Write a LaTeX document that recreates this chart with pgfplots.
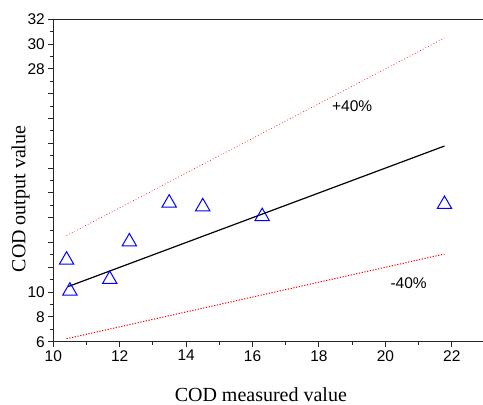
\documentclass[border=0pt]{standalone}
\usepackage{pgfplots}
\pgfplotsset{compat=1.18}
\usepackage{fontspec}
\setmainfont{Liberation Serif}
\newfontfamily\arialfont{Liberation Sans}
\begin{document}
\begin{tikzpicture}
\begin{axis}[
  scale only axis,
  width=429.7pt, height=322.4pt,
  xmin=10, xmax=22.94, ymin=6, ymax=32,
  axis x line*=bottom, axis y line*=left,
  axis line style={line width=1.1pt, black!85},
  xtick={10,12,...,22},
  ytick={6,8,...,32},
  yticklabels={6,8,10,{},{},{},{},{},{},{},{},28,30,32},
  minor x tick num=1, minor y tick num=1,
  tick align=outside,
  major tick length=5pt, minor tick length=3pt,
  tick style={line width=1pt, black!85},
  /pgf/number format/assume math mode=true,
  tick label style={font=\arialfont\fontsize{15.5}{15.5}\selectfont},
  xlabel={COD measured value},
  ylabel={COD output value},
  label style={font=\fontsize{20}{20}\selectfont},
  xlabel style={at={(axis description cs:0.483,-0.186)}, anchor=base},
  ylabel style={at={(axis description cs:-0.065,0.443)}, anchor=base, rotate=0},
  clip=false,
]
\draw[line width=1.1pt, black!85] (rel axis cs:0,1) -- (rel axis cs:1,1);
% +40% line
\addplot[red, line width=0.6pt, dash pattern=on 0.8pt off 2.2pt] coordinates {(10.40,14.56) (21.78,30.49)};
% -40% line
\addplot[red, line width=1pt, dash pattern=on 1.2pt off 1.6pt] coordinates {(10.40,6.24) (21.78,13.07)};
% 1:1 line
\addplot[black, line width=1.2pt] coordinates {(10.45,10.45) (21.78,21.78)};
% data
\addplot[only marks, mark=triangle, mark size=8.3pt, blue, mark options={line width=1pt}] coordinates {
(10.40,12.59) (10.50,10.09) (11.70,11.03) (12.29,14.06) (13.49,17.19) (14.50,16.89) (16.29,16.10) (21.78,17.08)};
\node[font=\arialfont\fontsize{15.5}{15.5}\selectfont] at (axis cs:19.0,25.0) {+40\%};
\node[font=\arialfont\fontsize{15.5}{15.5}\selectfont] at (axis cs:20.7,10.7) {-40\%};
\end{axis}
\pgfresetboundingbox
\path (current axis.south west) ++(-53.3pt,-63.3pt) rectangle ++(483pt,405pt);
\end{tikzpicture}
\end{document}
